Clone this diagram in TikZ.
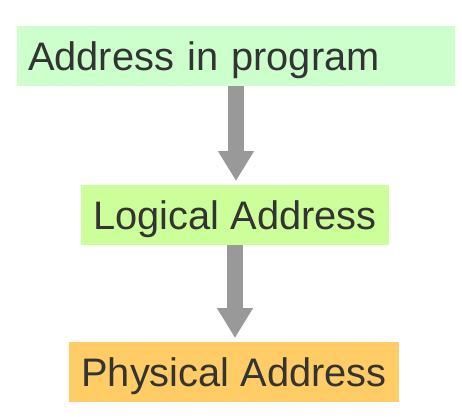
\documentclass[tikz,border=0pt]{standalone}
\usepackage{fontspec}
\setmainfont{Liberation Sans}
\usepackage{xcolor}
\usetikzlibrary{arrows.meta}
\definecolor{progfill}{HTML}{CCFFCC}
\definecolor{logicfill}{HTML}{CCFF99}
\definecolor{physfill}{HTML}{FFCC66}
\definecolor{arrowgray}{HTML}{999999}
\definecolor{textgray}{HTML}{333333}

\begin{document}
\begin{tikzpicture}[x=1pt, y=-1pt, font=\fontsize{39.8}{44}\selectfont, text=textgray]
	\tikzstyle{addr}=[anchor=north, minimum height=60pt, inner xsep=11pt, text height=28.5pt, text depth=0pt]
	\tikzstyle{flow}=[arrowgray, line width=16pt, -{Triangle[width=34pt, length=30pt]}, shorten >=4pt]
	
	\useasboundingbox (0,0) rectangle (462,416);
	\node[addr, fill=progfill, text width=416pt, align=left](prog) at (236,26){Address in program};
	\node[addr, fill=logicfill, minimum width=308pt](logic) at (235,185){Logical Address};
	\node[addr, fill=physfill, minimum width=330pt](phys) at (234,342){Physical Address};
	
	\draw[flow] (prog.south) -- (prog.south |- logic.north);
	\draw[flow] (logic.south) -- (logic.south |- phys.north);
\end{tikzpicture}
\end{document}
